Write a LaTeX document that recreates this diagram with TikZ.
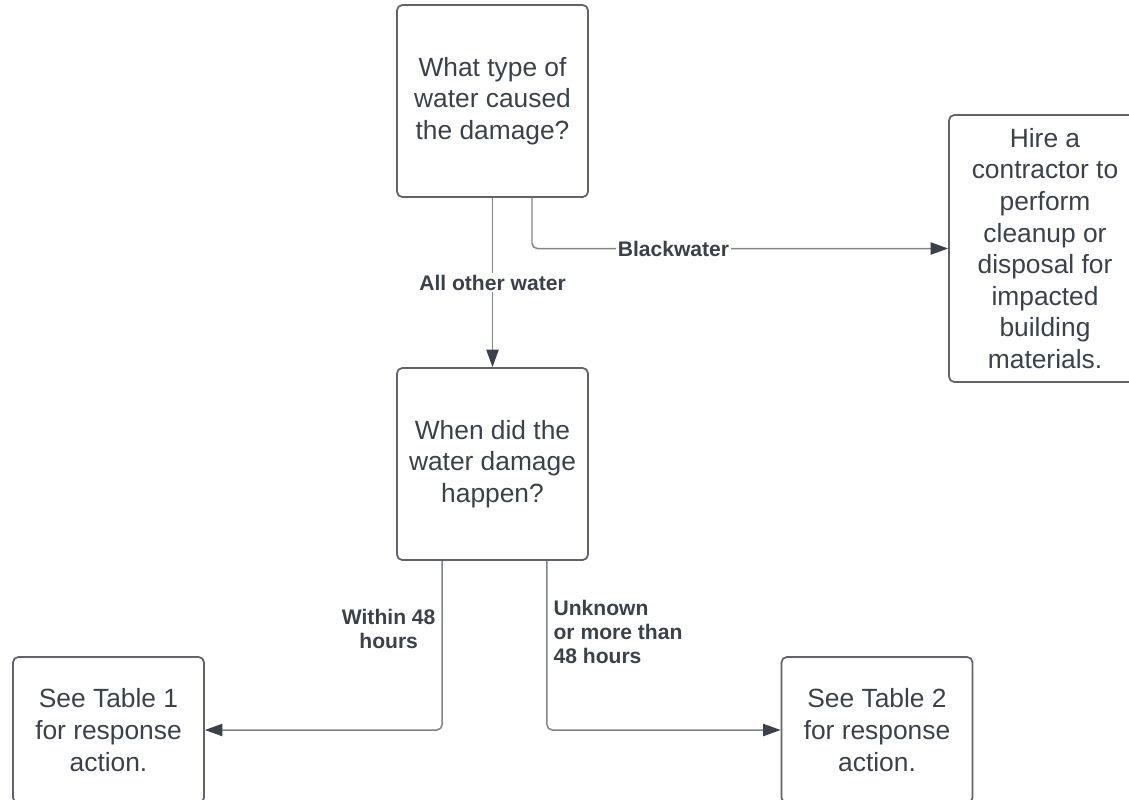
\documentclass[tikz,border=0pt]{standalone}
\usepackage{fontspec}
\setmainfont{Liberation Sans}
\usepackage{tikz}
\usetikzlibrary{arrows.meta,positioning,calc}
\definecolor{lcborder}{RGB}{96,100,106}
\definecolor{lctext}{RGB}{58,65,74}
\definecolor{lcline}{RGB}{128,132,137}
\tikzstyle{arrow} = [line width=0.85pt, color=lcline, rounded corners=3pt, -{Triangle[length=10pt,width=7pt,color=lctext]}]
\tikzstyle{qbox} = [rectangle, rounded corners=3pt, minimum width=3.82cm, minimum height=3.84cm, text centered, align=center, draw=lcborder, line width=1pt, text=lctext, font=\fontsize{15}{18}\selectfont]
\tikzstyle{answer} = [text=lctext, font=\fontsize{12}{13.7}\selectfont\bfseries]

\begin{document}
\begin{tikzpicture}[x=0.02cm, y=-0.02cm]
    \useasboundingbox (0,0) rectangle (1129,799);
    \clip (0,0) rectangle (1129,799);

    % Questions
    \node[qbox] (type) at (492.5,101) {What type of\\water caused\\the damage?};
    \node[qbox] (when) at (492.5,464) {When did the\\water damage\\happen?};

    % Outcomes
    \node[qbox, minimum width=3.84cm, minimum height=5.34cm] (hire) at (1045,248.5) {Hire a\\contractor to\\perform\\cleanup or\\disposal for\\impacted\\building\\materials.};
    \node[qbox, minimum height=2.92cm] (table1) at (108.5,730) {See Table 1\\for response\\action.};
    \node[qbox, minimum height=2.92cm] (table2) at (877,730) {See Table 2\\for response\\action.};

    % Arrows
    \draw[arrow] (type) -- node[answer, fill=white, inner sep=1pt] {All other water} (when);
    \draw[arrow] ([xshift=0.79cm]type.south) |- node[answer, pos=0.67, fill=white, inner sep=1pt] {Blackwater} (hire);

    \draw[arrow] ([xshift=-1.01cm]when.south) |- node[answer, pos=0.2, left, align=center] {Within 48\\hours} (table1);
    \draw[arrow] ([xshift=1.09cm]when.south) |- node[answer, pos=0.21, right, align=left] {Unknown\\or more than\\48 hours} (table2);
\end{tikzpicture}
\end{document}
